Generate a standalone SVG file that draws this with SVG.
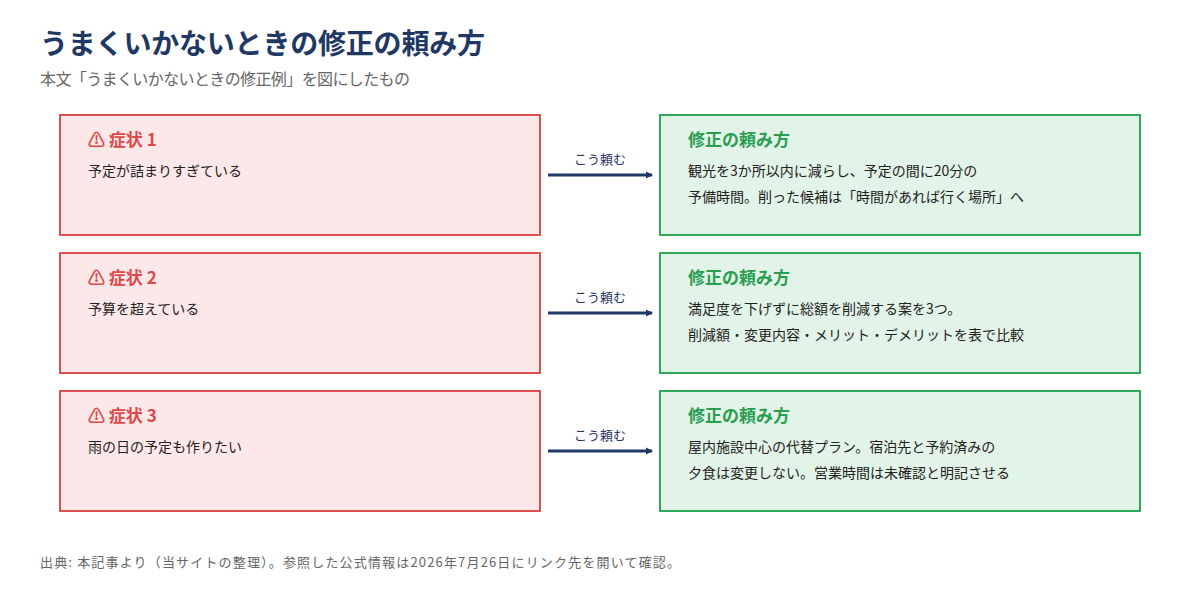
<svg xmlns="http://www.w3.org/2000/svg" width="1200" height="591" viewBox="0 0 1200 591">
<style>
text{font-family:"Noto Sans CJK JP","Noto Sans",sans-serif}
.sym{fill:#fce8e8;stroke:#de4f4f;stroke-width:2}
.fix{fill:#e2f3e7;stroke:#2fa85a;stroke-width:2}
.st{fill:#de4848;font-size:17px;font-weight:bold}
.ft{fill:#2a9e50;font-size:17px;font-weight:bold}
.b{fill:#222;font-size:14px}
.lb{fill:#1f3864;font-size:13px;text-anchor:middle}
.c{stroke:#1f3864;stroke-width:3;fill:none}
</style>
<defs><marker id="ah" markerWidth="8" markerHeight="8" refX="6" refY="4" orient="auto" markerUnits="userSpaceOnUse"><path d="M0,0.5 L7,4 L0,7.5z" fill="#1f3864"/></marker></defs>
<rect width="1200" height="591" fill="#fff"/>
<text x="40" y="54" font-size="28" font-weight="bold" fill="#1f3864" textLength="445">うまくいかないときの修正の頼み方</text>
<text x="40" y="85" font-size="16" fill="#666" textLength="370">本文「うまくいかないときの修正例」を図にしたもの</text>
<g id="s1"><rect class="sym" x="60" y="115" width="480" height="120"/><text class="st" x="88" y="146">⚠ 症状 1</text><text class="b" x="88" y="176">予定が詰まりすぎている</text></g>
<g id="f1"><rect class="fix" x="660" y="115" width="480" height="120"/><text class="ft" x="688" y="146">修正の頼み方</text><text class="b" x="688" y="176">観光を3か所以内に減らし、予定の間に20分の</text><text class="b" x="688" y="202">予備時間。削った候補は「時間があれば行く場所」へ</text></g>
<g id="s2"><rect class="sym" x="60" y="253" width="480" height="120"/><text class="st" x="88" y="284">⚠ 症状 2</text><text class="b" x="88" y="314">予算を超えている</text></g>
<g id="f2"><rect class="fix" x="660" y="253" width="480" height="120"/><text class="ft" x="688" y="284">修正の頼み方</text><text class="b" x="688" y="314">満足度を下げずに総額を削減する案を3つ。</text><text class="b" x="688" y="340">削減額・変更内容・メリット・デメリットを表で比較</text></g>
<g id="s3"><rect class="sym" x="60" y="391" width="480" height="120"/><text class="st" x="88" y="422">⚠ 症状 3</text><text class="b" x="88" y="452">雨の日の予定も作りたい</text></g>
<g id="f3"><rect class="fix" x="660" y="391" width="480" height="120"/><text class="ft" x="688" y="422">修正の頼み方</text><text class="b" x="688" y="452">屋内施設中心の代替プラン。宿泊先と予約済みの</text><text class="b" x="688" y="478">夕食は変更しない。営業時間は未確認と明記させる</text></g>
<g id="connectors">
<line class="c" x1="548" y1="175" x2="652" y2="175" marker-end="url(#ah)"/><text class="lb" x="600" y="164">こう頼む</text>
<line class="c" x1="548" y1="313" x2="652" y2="313" marker-end="url(#ah)"/><text class="lb" x="600" y="302">こう頼む</text>
<line class="c" x1="548" y1="451" x2="652" y2="451" marker-end="url(#ah)"/><text class="lb" x="600" y="440">こう頼む</text>
</g>
<text x="40" y="567" font-size="13" fill="#666" textLength="640">出典:  本記事より（当サイトの整理）。参照した公式情報は2026年7月26日にリンク先を開いて確認。</text>
</svg>
